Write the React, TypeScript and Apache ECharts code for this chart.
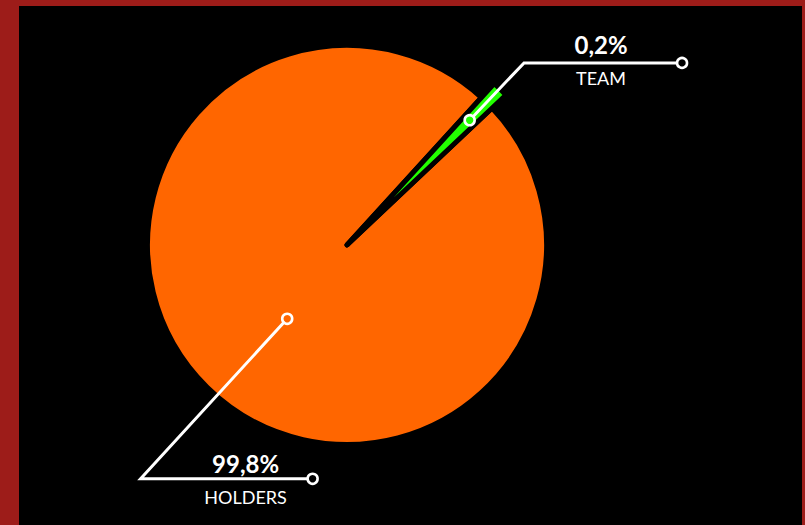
import React, { useEffect, useRef } from "react";
import * as echarts from "echarts";

// ---- data ----
const categories = ["TEAM", "HOLDERS"];
const values = [0.2, 99.8];
const valueLabels = ["0,2%", "99,8%"];
const sliceColors = ["#22ff00", "#ff6600"];

// ---- layout / style ----
const FRAME = "#9d1c19";
const BG = "#000000";
const CX = 328;
const CY = 239;
const R_PIE = 199.5;
const R_TEAM = 218.5;
const BORDER = 5;
const START_ANGLE = 47.65;
const MIN_ANGLE = 4.3;

// per-label annotation geometry (relative to the slice mid-angle)
const labelSpecs = [
  { anchorR: 175, anchorDA: 0, legLen: 79, legDA: 1, hLen: 158, textBack: 81, valueDy: -18, nameDy: 15 },
  { anchorR: 95, anchorDA: 5.5, legLen: 217, legDA: 2, hLen: 172, textBack: 67, valueDy: -15, nameDy: 18 },
];

function sliceMidAngles(): number[] {
  const sum = values.reduce((a, b) => a + b, 0);
  let rest = 360;
  let sumLarge = 0;
  const angles = values.map((v) => {
    const a = (v / sum) * 360;
    if (a < MIN_ANGLE) {
      rest -= MIN_ANGLE;
      return -1;
    }
    sumLarge += v;
    return a;
  });
  const final = angles.map((a, i) => (a < 0 ? MIN_ANGLE : (values[i] / sumLarge) * rest));
  const mids: number[] = [];
  let cur = START_ANGLE;
  final.forEach((a) => {
    mids.push(cur - a / 2);
    cur -= a;
  });
  return mids;
}

function polar(r: number, deg: number, ox = CX, oy = CY): [number, number] {
  const rad = (deg * Math.PI) / 180;
  return [ox + r * Math.cos(rad), oy - r * Math.sin(rad)];
}

export default function App() {
  const ref = useRef<HTMLDivElement>(null);

  useEffect(() => {
    document.body.style.margin = "0";
    if (!ref.current) return;
    const chart = echarts.init(ref.current, undefined, { renderer: "svg" });

    const mids = sliceMidAngles();
    const graphics: any[] = [];
    labelSpecs.forEach((s, i) => {
      const anchor = polar(s.anchorR, mids[i] + s.anchorDA);
      const elbow = polar(s.legLen, mids[i] + s.legDA, anchor[0], anchor[1]);
      const end: [number, number] = [elbow[0] + s.hLen, elbow[1]];
      const tx = end[0] - s.textBack;
      graphics.push({
        type: "polyline",
        shape: { points: [anchor, elbow, end] },
        style: { stroke: "#ffffff", lineWidth: 3, fill: null, lineJoin: "miter" },
        z: 10,
      });
      graphics.push({
        type: "circle",
        shape: { cx: anchor[0], cy: anchor[1], r: 5 },
        style: { fill: sliceColors[i], stroke: "#ffffff", lineWidth: 2.6 },
        z: 11,
      });
      graphics.push({
        type: "circle",
        shape: { cx: end[0], cy: end[1], r: 5 },
        style: { fill: BG, stroke: "#ffffff", lineWidth: 2.6 },
        z: 11,
      });
      graphics.push({
        type: "text",
        x: tx,
        y: elbow[1] + s.valueDy,
        style: {
          text: valueLabels[i],
          fill: "#ffffff",
          font: "bold 24px Lato, 'Open Sans', sans-serif",
          align: "center",
          verticalAlign: "middle",
        },
        z: 12,
      });
      graphics.push({
        type: "text",
        x: tx,
        y: elbow[1] + s.nameDy,
        style: {
          text: categories[i],
          fill: "#ffffff",
          font: "normal 18px Lato, 'Open Sans', sans-serif",
          align: "center",
          verticalAlign: "middle",
        },
        z: 12,
      });
    });

    const baseData = categories.map((c, i) => ({
      name: c,
      value: values[i],
      itemStyle: { color: sliceColors[i] },
    }));
    const extData = categories.map((c, i) => ({
      name: c,
      value: values[i],
      itemStyle:
        i === 0
          ? { color: sliceColors[i], borderColor: BG, borderWidth: BORDER, borderJoin: "round" }
          : { color: "transparent", borderWidth: 0 },
    }));

    chart.setOption({
      animation: false,
      backgroundColor: BG,
      series: [
        {
          type: "pie",
          center: [CX, CY],
          radius: [0, R_PIE],
          startAngle: START_ANGLE,
          minAngle: MIN_ANGLE,
          clockwise: true,
          silent: true,
          avoidLabelOverlap: false,
          label: { show: false },
          labelLine: { show: false },
          emphasis: { disabled: true },
          itemStyle: { borderColor: BG, borderWidth: BORDER, borderJoin: "round" },
          data: baseData,
          z: 1,
        },
        {
          type: "pie",
          center: [CX, CY],
          radius: [0, R_TEAM],
          startAngle: START_ANGLE,
          minAngle: MIN_ANGLE,
          clockwise: true,
          silent: true,
          avoidLabelOverlap: false,
          label: { show: false },
          labelLine: { show: false },
          emphasis: { disabled: true },
          data: extData,
          z: 2,
        },
      ],
      graphic: graphics,
    });

    return () => chart.dispose();
  }, []);

  return (
    <div
      style={{
        width: 805,
        height: 525,
        background: FRAME,
        position: "relative",
        overflow: "hidden",
      }}
    >
      <div
        ref={ref}
        style={{ position: "absolute", left: 19, top: 6, width: 783, height: 519 }}
      />
    </div>
  );
}
